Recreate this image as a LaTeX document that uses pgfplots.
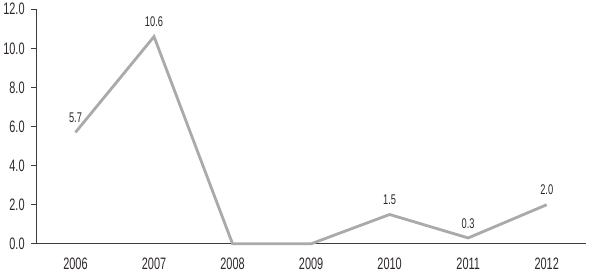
\documentclass[border=0pt]{standalone}
\usepackage{fontspec}
\setmainfont{Liberation Sans}[FakeStretch=0.66]
\usepackage{pgfplots}
\pgfplotsset{compat=1.18}
\definecolor{linegray}{RGB}{170,170,170}
\definecolor{axisgray}{RGB}{60,60,60}
\definecolor{txt}{RGB}{45,40,40}
\begin{document}
\begin{tikzpicture}
\begin{axis}[
  name=ax,
  scale only axis,
  width=546bp, height=233bp,
  xmin=-0.5, xmax=6.5,
  ymin=0, ymax=12,
  axis lines*=left,
  axis line style={-, axisgray, line width=0.9bp},
  tick style={axisgray, line width=0.9bp},
  tick align=outside,
  major tick length=5bp,
  minor tick length=5bp,
  xtick={0,...,6},
  xticklabels={2006,2007,2008,2009,2010,2011,2012},
  x tick style={draw=none},
  minor xtick={-0.5,0.5,...,6.5},
  minor x tick style={axisgray, line width=0.9bp},
  ytick={0,2,...,12},
  yticklabel style={/pgf/number format/fixed, /pgf/number format/fixed zerofill, /pgf/number format/precision=1},
  /pgf/number format/assume math mode=true,
  tick label style={font=\fontsize{16.5}{17}\selectfont, text=txt},
  xticklabel style={yshift=-6bp},
  yticklabel style={xshift=-3bp},
  clip=false,
  nodes near coords,
  point meta=explicit symbolic,
  every node near coord/.append style={font=\fontsize{14}{15}\selectfont, text=txt, anchor=south, yshift=5bp},
]
\addplot[linegray, line width=2.8bp] coordinates {
  (0,5.7) [5.7]
  (1,10.6) [10.6]
  (2,0) []
  (3,0) []
  (4,1.5) [1.5]
  (5,0.3) [0.3]
  (6,2.0) [2.0]
};
\end{axis}
\path (ax.south east) ++(3bp,0) coordinate (r);
\end{tikzpicture}
\end{document}
